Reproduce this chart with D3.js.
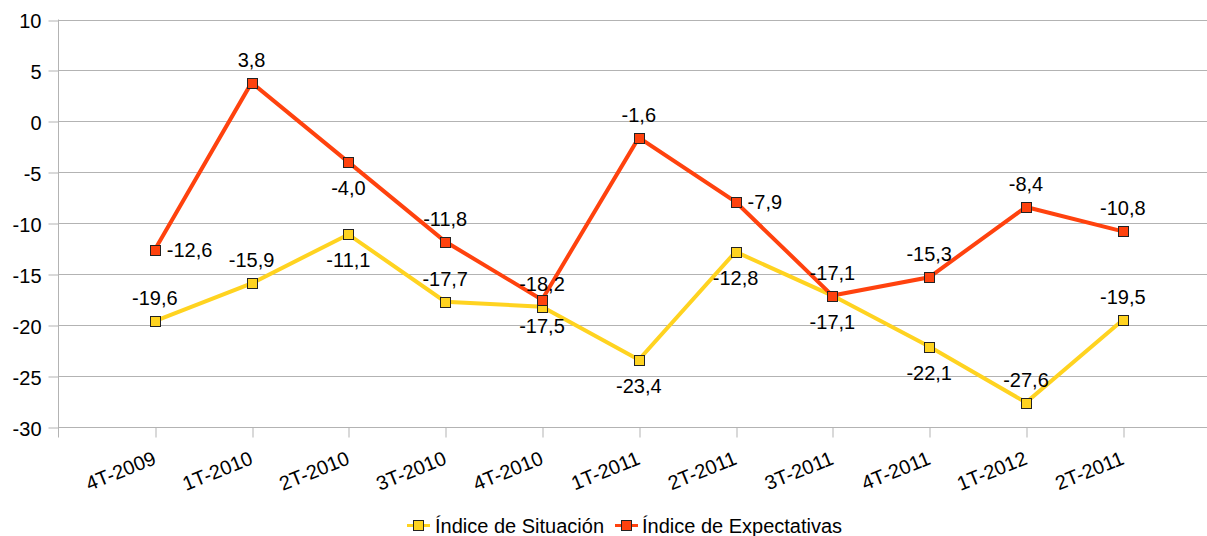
<!DOCTYPE html>
<html>
<head>
<meta charset="utf-8">
<script src="https://cdn.jsdelivr.net/npm/d3@7"></script>
<style>
  html, body { margin: 0; padding: 0; background: #fff; }
  svg { display: block; font-family: "Liberation Sans", Arial, sans-serif; }
</style>
</head>
<body>
<svg id="chart" width="1207" height="536"></svg>
<script>
const categories = ["4T-2009","1T-2010","2T-2010","3T-2010","4T-2010","1T-2011","2T-2011","3T-2011","4T-2011","1T-2012","2T-2011"];
const situacion = [-19.6, -15.9, -11.1, -17.7, -18.2, -23.4, -12.8, -17.1, -22.1, -27.6, -19.5];
const expectativas = [-12.6, 3.8, -4.0, -11.8, -17.5, -1.6, -7.9, -17.1, -15.3, -8.4, -10.8];
const yTicks = [10, 5, 0, -5, -10, -15, -20, -25, -30];
const seriesNames = ["Índice de Situación", "Índice de Expectativas"];

// label placement (style, not data)
const situacionLabelPos = ["above","above","below","above","above","below","below","below","below","above","above"];
const expectativasLabelPos = ["right","above","below","above","below","above","right","above","above","above","above"];

const W = 1207, H = 536;
const axisX = 58, axisBottomY = 427, topY = 19.5;
const gridColor = "#b3b3b3";
const colors = ["#ffd320", "#ff420e"];
const fontSize = 20;

const svg = d3.select("#chart");
svg.append("rect").attr("width", W).attr("height", H).attr("fill", "#fff");

const idx = d3.range(categories.length);
const x = d3.scalePoint().domain(idx).range([axisX, axisX + 12 * 96.8]).padding(1);
const y = d3.scaleLinear().domain([-30, 10]).range([axisBottomY, topY]);

// gridlines
svg.append("g").selectAll("line").data(yTicks).join("line")
  .attr("x1", axisX).attr("x2", W)
  .attr("y1", d => Math.round(y(d)) + 0.5).attr("y2", d => Math.round(y(d)) + 0.5)
  .attr("stroke", gridColor).attr("stroke-width", 1);

// y axis
const yAxis = svg.append("g").attr("transform", `translate(${axisX + 0.5},0)`)
  .call(d3.axisLeft(y).tickValues(yTicks).tickSize(10).tickPadding(7).tickFormat(d => String(d)));
yAxis.select(".domain").attr("stroke", gridColor).attr("d", `M0,${topY}V${axisBottomY + 10}`);
yAxis.selectAll(".tick line").attr("stroke", gridColor)
  .attr("transform", function(d){ return `translate(0,${Math.round(y(d)) + 0.5 - y(d)})`; });
yAxis.selectAll(".tick text").attr("fill", "#000").attr("font-size", fontSize)
  .attr("font-family", "Liberation Sans, Arial, sans-serif").attr("dy", "0.4em");

// x axis
const xAxis = svg.append("g").attr("transform", `translate(0,${Math.round(axisBottomY) + 0.5})`)
  .call(d3.axisBottom(x).tickSize(10).tickPadding(0).tickFormat(i => categories[i]));
xAxis.select(".domain").remove();
xAxis.selectAll(".tick line").attr("stroke", gridColor)
  .attr("transform", function(d){ const px = x(d); return `translate(${Math.round(px) + 0.5 - px},0)`; });
xAxis.selectAll(".tick text").attr("fill", "#000").attr("font-size", fontSize)
  .attr("font-family", "Liberation Sans, Arial, sans-serif")
  .attr("text-anchor", "end").attr("x", 0).attr("y", 0).attr("dy", 0)
  .attr("transform", "translate(2,36) rotate(-22)");
xAxis.append("line").attr("x1", axisX + 0.5).attr("x2", axisX + 0.5).attr("y1", 0).attr("y2", 10).attr("stroke", gridColor);

// series
const series = [
  { name: seriesNames[0], values: situacion, color: colors[0], pos: situacionLabelPos },
  { name: seriesNames[1], values: expectativas, color: colors[1], pos: expectativasLabelPos }
];

const line = d3.line().x((d, i) => x(i)).y(d => y(d));
const ms = 10;

series.forEach(s => {
  const g = svg.append("g");
  g.append("path").datum(s.values).attr("d", line)
    .attr("fill", "none").attr("stroke", s.color).attr("stroke-width", 4).attr("stroke-linejoin", "miter");
  g.selectAll("rect").data(s.values).join("rect")
    .attr("x", (d, i) => Math.round(x(i) - ms / 2) + 0.5)
    .attr("y", d => Math.round(y(d) - ms / 2) + 0.5)
    .attr("width", ms).attr("height", ms)
    .attr("fill", s.color).attr("stroke", "#222").attr("stroke-width", 1);
});

const fmt = v => v.toFixed(1).replace(".", ",");
series.forEach(s => {
  svg.append("g").selectAll("text").data(s.values).join("text")
    .attr("font-size", fontSize).attr("fill", "#000")
    .attr("text-anchor", (d, i) => s.pos[i] === "right" ? "start" : "middle")
    .attr("x", (d, i) => x(i) + (s.pos[i] === "right" ? 12 : 0))
    .attr("y", (d, i) => y(d) + (s.pos[i] === "above" ? -16 : s.pos[i] === "below" ? 33 : 7))
    .text(d => fmt(d));
});

// legend
const legend = svg.append("g");
const legendItems = [
  { name: seriesNames[0], color: colors[0], lx: 407, tx: 435 },
  { name: seriesNames[1], color: colors[1], lx: 615, tx: 642 }
];
legendItems.forEach(it => {
  legend.append("line").attr("x1", it.lx).attr("x2", it.lx + 23).attr("y1", 525.5).attr("y2", 525.5)
    .attr("stroke", it.color).attr("stroke-width", 3);
  legend.append("rect").attr("x", it.lx + 6.5).attr("y", 520.5).attr("width", 10).attr("height", 10)
    .attr("fill", it.color).attr("stroke", "#222").attr("stroke-width", 1);
  legend.append("text").attr("x", it.tx).attr("y", 533).attr("font-size", fontSize).attr("fill", "#000").text(it.name);
});
</script>
</body>
</html>
